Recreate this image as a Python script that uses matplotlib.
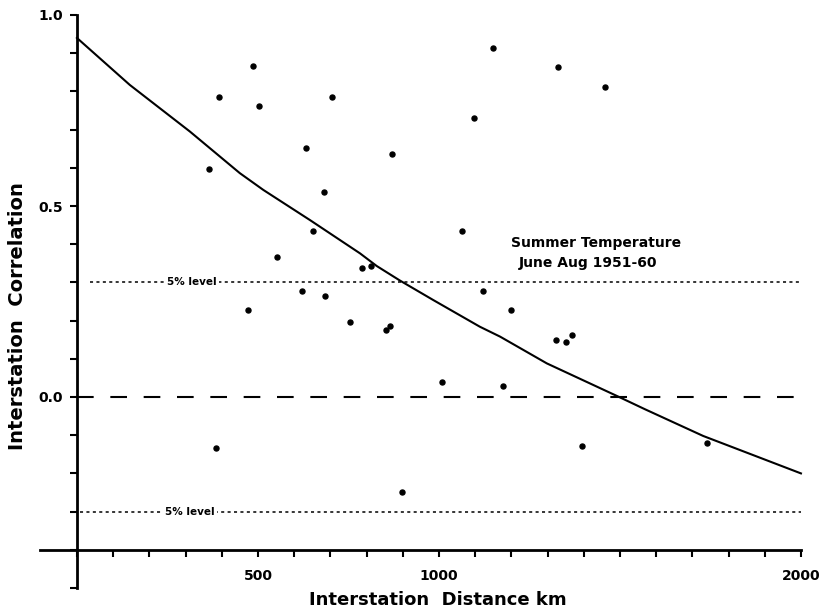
import numpy as np
import matplotlib
matplotlib.use("Agg")
from matplotlib import pyplot as plt

# station pairs: distance (km) and correlation
dist = [485, 393, 504, 704, 632, 365, 682, 1150, 1330, 1460, 1098, 871,
        653, 552, 787, 813, 1064, 621, 685, 473, 755, 853, 864, 1123,
        1008, 1199, 1324, 1352, 1367, 1176, 1395, 1740, 383, 899]
corr = [0.866, 0.785, 0.762, 0.785, 0.652, 0.596, 0.536, 0.913, 0.865, 0.811, 0.731, 0.635,
        0.434, 0.367, 0.338, 0.343, 0.435, 0.277, 0.264, 0.227, 0.197, 0.175, 0.187, 0.277,
        0.038, 0.229, 0.148, 0.145, 0.162, 0.028, -0.129, -0.121, -0.133, -0.248]

# fitted curve
curve_x = [0, 146, 312, 450, 515, 644, 782, 828, 892, 984, 1113, 1169, 1298, 1491, 1569, 1730, 2000]
curve_y = [0.94, 0.817, 0.695, 0.586, 0.542, 0.463, 0.376, 0.343, 0.305, 0.254, 0.184, 0.158,
           0.088, 0.003, -0.032, -0.102, -0.2]

sig_level = 0.3
xtick_pos = list(range(0, 2001, 100))
xtick_labels = {500: "500", 1000: "1000", 2000: "2000"}
ytick_pos = [round(v, 1) for v in np.arange(-0.5, 1.01, 0.1)]
ytick_labels = {1.0: "1.0", 0.5: "0.5", 0.0: "0.0"}

plt.rcParams["font.family"] = ["DejaVu Sans"]

fig = plt.figure(figsize=(8.21, 6.15), dpi=100)
ax = fig.add_axes([40 / 821, 27 / 615, 770 / 821, 573 / 615])
ax.set_xlim(-102, 2025)
ax.set_ylim(-0.5, 1.0)

ax.plot(curve_x, curve_y, color="black", lw=1.5, zorder=3)
ax.plot(dist, corr, "o", color="black", ms=3.6, zorder=4)

ax.plot([0, 2000], [0, 0], color="black", lw=1.5, dashes=(8, 8))
ax.plot([35, 2000], [sig_level, sig_level], color="black", lw=1.1, dashes=(2, 2.2))
ax.plot([8, 2000], [-sig_level, -sig_level], color="black", lw=1.1, dashes=(2, 2.2))

box = dict(facecolor="white", edgecolor="none", pad=1.5)
ax.text(318, sig_level, "5% level", fontsize=7.5, fontweight="bold", ha="center", va="center", bbox=box, zorder=5)
ax.text(312, -sig_level, "5% level", fontsize=7.5, fontweight="bold", ha="center", va="center", bbox=box, zorder=5)

ax.text(1434, 0.403, "Summer Temperature", fontsize=10, fontweight="semibold", ha="center", va="center")
ax.text(1412, 0.351, "June Aug 1951-60", fontsize=10, fontweight="semibold", ha="center", va="center")

for s in ["top", "right"]:
    ax.spines[s].set_visible(False)
ax.spines["left"].set_position(("data", 0))
ax.spines["bottom"].set_position(("data", -0.4))
ax.spines["bottom"].set_bounds(-102, 2000)
ax.spines["left"].set_linewidth(2)
ax.spines["bottom"].set_linewidth(2)

ax.set_xticks(xtick_pos)
ax.set_xticklabels([xtick_labels.get(v, "") for v in xtick_pos], fontsize=10, fontweight="bold")
ax.set_yticks(ytick_pos)
ax.set_yticklabels([ytick_labels.get(v, "") for v in ytick_pos], fontsize=10, fontweight="bold")
ax.tick_params(axis="x", direction="out", length=5, width=1.5, pad=9)
ax.tick_params(axis="y", direction="out", length=5, width=1.5, pad=5)

fig.text(18 / 821, 1 - 316 / 615, "Interstation  Correlation", rotation=90, fontsize=14,
         fontweight="bold", ha="center", va="center")
fig.text(438 / 821, 1 - 600 / 615, "Interstation  Distance km", fontsize=13,
         fontweight="bold", ha="center", va="center")

fig.savefig("out.png", dpi=100)
